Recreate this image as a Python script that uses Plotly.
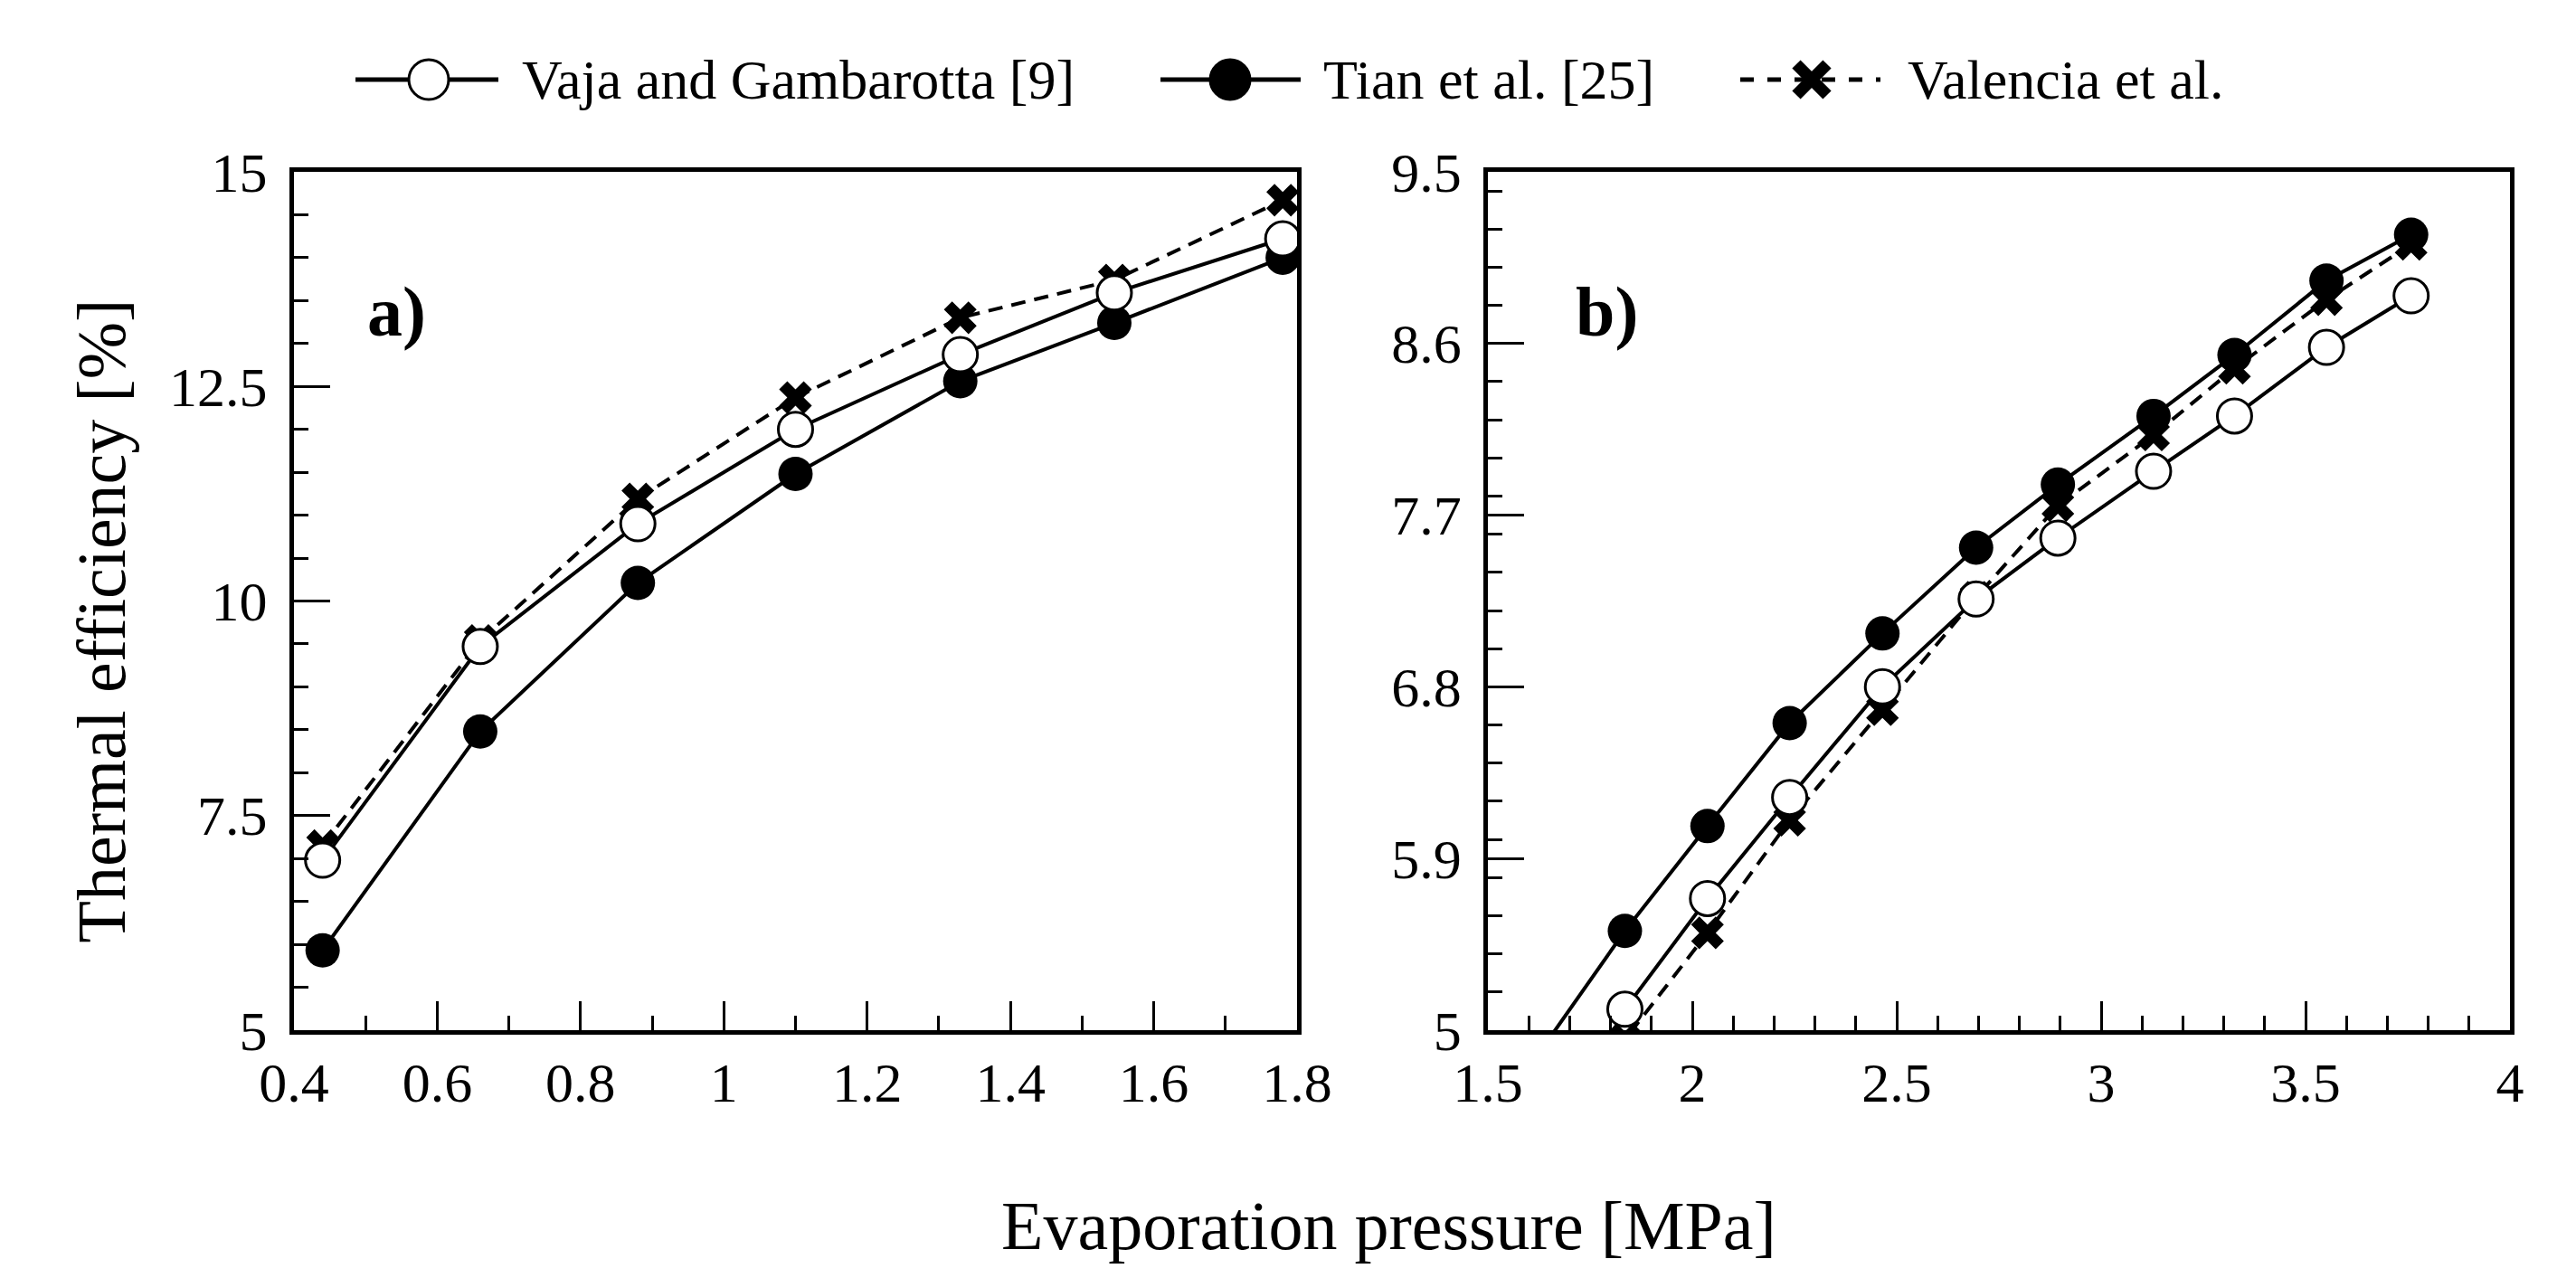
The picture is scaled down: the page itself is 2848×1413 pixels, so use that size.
import plotly.graph_objects as go

# panel a) data
a_pressure = [0.44, 0.66, 0.88, 1.10, 1.33, 1.545, 1.78]
a_vaja = [6.98, 9.47, 10.90, 12.0, 12.87, 13.59, 14.22]
a_tian = [5.93, 8.48, 10.21, 11.48, 12.56, 13.24, 14.0]
a_valencia = [7.15, 9.54, 11.19, 12.37, 13.3, 13.74, 14.67]

# panel b) data (first point lies below the axis and is clipped)
b_pressure = [1.635, 1.835, 2.037, 2.238, 2.465, 2.694, 2.894, 3.128, 3.326, 3.551, 3.758]
b_vaja = [4.3, 5.11, 5.69, 6.22, 6.80, 7.26, 7.58, 7.93, 8.22, 8.58, 8.85]
b_tian = [4.91, 5.52, 6.07, 6.61, 7.08, 7.53, 7.86, 8.22, 8.54, 8.93, 9.17]
b_valencia = [4.25, 4.95, 5.51, 6.1, 6.68, 7.27, 7.75, 8.12, 8.47, 8.83, 9.12]

a_yticks = [5, 7.5, 10, 12.5, 15]
b_yticks = [5, 5.9, 6.8, 7.7, 8.6, 9.5]

W, H = 2848, 1413
FONT = "Liberation Serif"
LW = 4

series = [
    # name, marker style, line dash (drawn bottom to top)
    ("Valencia et al.", dict(symbol="x", size=32, color="black", line=dict(width=0)), "16px,10px"),
    ("Tian et al. [25]", dict(symbol="circle", size=38, color="black", line=dict(width=0)), "solid"),
    ("Vaja and Gambarotta [9]", dict(symbol="circle", size=38, color="white",
                                     line=dict(width=3, color="black")), "solid"),
]
a_vals = {"Valencia et al.": a_valencia, "Tian et al. [25]": a_tian, "Vaja and Gambarotta [9]": a_vaja}
b_vals = {"Valencia et al.": b_valencia, "Tian et al. [25]": b_tian, "Vaja and Gambarotta [9]": b_vaja}

fig = go.Figure()

for name, mk, dash in series:
    fig.add_trace(go.Scatter(
        x=a_pressure, y=a_vals[name], mode="lines+markers", name=name,
        marker=mk, line=dict(color="black", width=LW, dash=dash),
        xaxis="x", yaxis="y", showlegend=False))
    fig.add_trace(go.Scatter(
        x=b_pressure, y=b_vals[name], mode="lines+markers", name=name,
        marker=mk, line=dict(color="black", width=LW, dash=dash),
        xaxis="x2", yaxis="y2", showlegend=False))

tickfont = dict(family=FONT, size=62, color="black")
common = dict(showline=True, linecolor="black", linewidth=5, mirror=True,
              ticks="inside", tickcolor="black", tickwidth=3, automargin=False,
              showgrid=False, zeroline=False, tickfont=tickfont)
xcommon = dict(ticklen=32, ticklabelstandoff=0, **common)
ycommon = dict(ticklen=40, ticklabelstandoff=12, **common)


def minor(step, start):
    return dict(dtick=step, tick0=start, ticks="inside", ticklen=16, tickwidth=3,
                tickcolor="black", showgrid=False)


# hand-drawn legend (large markers, like the original figure)
ly = 1 - 80 / H
rx, ry = 22 / W, 22 / H
shapes = []
legend_items = [
    # line start, line end, marker centre, text start (px), label, kind
    (385, 543, 466, 567, "Vaja and Gambarotta [9]", "open"),
    (1275, 1430, 1352, 1453, "Tian et al. [25]", "filled"),
    (1916, 2071, 1995, 2099, "Valencia et al.", "cross"),
]
annotations = []
for x0, x1, xc, xt, label, kind in legend_items:
    shapes.append(dict(type="line", xref="paper", yref="paper", x0=x0 / W, x1=x1 / W, y0=ly, y1=ly,
                       line=dict(color="black", width=5,
                                 dash="dash" if kind == "cross" else "solid")))
    if kind == "cross":
        d = 17
        for s in (1, -1):
            shapes.append(dict(type="line", xref="paper", yref="paper",
                               x0=(xc - d) / W, x1=(xc + d) / W,
                               y0=ly - s * d / H, y1=ly + s * d / H,
                               line=dict(color="black", width=13)))
    else:
        shapes.append(dict(type="circle", xref="paper", yref="paper",
                           x0=xc / W - rx, x1=xc / W + rx, y0=ly - ry, y1=ly + ry,
                           fillcolor="white" if kind == "open" else "black",
                           line=dict(color="black", width=3)))
    annotations.append(dict(text=label, xref="paper", yref="paper", x=xt / W, y=ly,
                            xanchor="left", yanchor="middle", showarrow=False,
                            font=dict(family=FONT, size=62, color="black")))

annotations += [
    dict(text="Thermal efficiency [%]", xref="paper", yref="paper", x=0.0366, y=0.52,
         xanchor="center", yanchor="middle",
         textangle=-90, showarrow=False, font=dict(family=FONT, size=76, color="black")),
    dict(text="Evaporation pressure [MPa]", xref="paper", yref="paper", x=0.5365, y=0.047,
         xanchor="center", yanchor="middle",
         showarrow=False, font=dict(family=FONT, size=76, color="black")),
    dict(text="<b>a)</b>", xref="x domain", yref="y domain", x=0.102, y=0.837,
         xanchor="center", yanchor="middle",
         showarrow=False, font=dict(family=FONT, size=78, color="black")),
    dict(text="<b>b)</b>", xref="x2 domain", yref="y2 domain", x=0.116, y=0.837,
         xanchor="center", yanchor="middle",
         showarrow=False, font=dict(family=FONT, size=78, color="black")),
]

fig.update_layout(
    template="none",
    width=W, height=H,
    margin=dict(l=0, r=0, t=0, b=0),
    paper_bgcolor="white", plot_bgcolor="white",
    showlegend=False,
    xaxis=dict(domain=[0.1113, 0.5007], range=[0.4, 1.8], dtick=0.2, tick0=0.4,
               minor=minor(0.1, 0.4), anchor="y", **xcommon),
    yaxis=dict(domain=[0.1996, 0.8712], range=[5, 15], tickvals=a_yticks,
               minor=minor(0.5, 5), anchor="x", **ycommon),
    xaxis2=dict(domain=[0.5748, 0.9716], range=[1.5, 4], dtick=0.5, tick0=1.5,
                minor=minor(0.1, 1.5), anchor="y2", **xcommon),
    yaxis2=dict(domain=[0.1996, 0.8712], range=[5, 9.5], tickvals=b_yticks,
                minor=minor(0.2, 5), anchor="x2", **ycommon),
    shapes=shapes,
    annotations=annotations,
)

fig.write_html("out.html")
